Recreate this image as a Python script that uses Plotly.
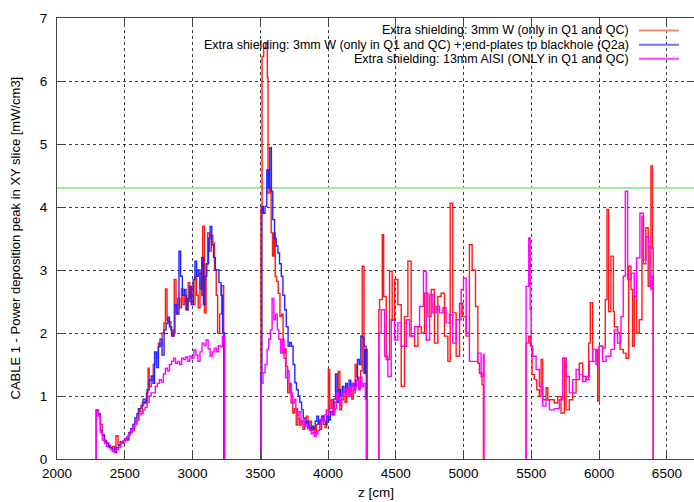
import plotly.graph_objects as go

# ---- data: step profiles (bin start positions in z [cm], last entry = end edge) ----
# Extra shielding: 3mm W (only in Q1 and QC)
red_a_z = [2290, 2305, 2320, 2335, 2350, 2365, 2380, 2395, 2410, 2425, 2435, 2450, 2465, 2480, 2495,
           2510, 2525, 2540, 2555, 2570, 2585, 2600, 2615, 2630, 2645, 2660, 2672, 2680, 2695, 2710,
           2722, 2735, 2748, 2760, 2775, 2790, 2800, 2812, 2825, 2840, 2855, 2865, 2878, 2890, 2905,
           2918, 2930, 2943, 2955, 2968, 2980, 2992, 3005, 3018, 3030, 3042, 3055, 3068, 3075, 3088,
           3100, 3112, 3125, 3138, 3150, 3162, 3175, 3185, 3200, 3215, 3230]
red_a_v = [0.78, 0.72, 0.55, 0.38, 0.30, 0.25, 0.22, 0.18, 0.20, 0.15, 0.37, 0.22, 0.28, 0.25, 0.30,
           0.33, 0.38, 0.42, 0.45, 0.55, 0.62, 0.80, 0.75, 0.90, 0.88, 1.05, 1.44, 1.15, 1.25, 1.50,
           1.68, 1.60, 1.84, 1.80, 2.00, 2.16, 2.70, 2.20, 2.18, 2.05, 1.95, 2.85, 2.30, 2.55, 2.40,
           2.70, 2.45, 2.60, 2.37, 2.80, 2.50, 2.74, 2.45, 2.90, 2.60, 2.40, 2.95, 2.60, 3.69, 2.32,
           3.10, 3.59, 3.30, 3.55, 3.43, 3.00, 2.60, 2.00, 2.30, 2.75]
red_b_z = [3505, 3513, 3525, 3540, 3552, 3557, 3570, 3580, 3590, 3600, 3610, 3620, 3632, 3645, 3657,
           3668, 3680, 3690, 3702, 3715, 3727, 3740, 3752, 3765, 3777, 3790, 3802, 3815, 3827, 3840,
           3852, 3865, 3877, 3890, 3902, 3915, 3927, 3940, 3952, 3965, 3977, 3990, 4002, 4012, 4025,
           4037, 4050, 4062, 4075, 4087, 4100, 4112, 4125, 4137, 4150, 4162, 4175, 4187, 4200, 4212,
           4225, 4240, 4252, 4265, 4282]
red_b_v = [4.00, 6.39, 6.52, 6.60, 6.05, 4.22, 4.30, 3.59, 3.22, 3.59, 2.90, 2.82, 2.63, 2.26, 2.30,
           1.68, 1.75, 1.47, 1.05, 1.20, 0.89, 0.73, 0.80, 0.54, 0.65, 0.54, 0.60, 0.47, 0.55, 0.68,
           0.52, 0.60, 0.45, 0.50, 0.42, 0.55, 0.60, 0.47, 0.68, 0.55, 0.50, 0.68, 1.42, 0.80, 0.94,
           0.75, 0.90, 0.94, 1.39, 0.78, 0.94, 1.00, 0.90, 1.10, 1.00, 1.15, 0.95, 1.10, 1.50, 1.30,
           1.12, 1.40, 3.06, 1.79]
red_c_z = [4375, 4380, 4400, 4410, 4429, 4454, 4473, 4491, 4515, 4540, 4564, 4589, 4613, 4638, 4663,
           4687, 4712, 4736, 4761, 4785, 4810, 4834, 4859, 4884, 4901, 4920, 4945, 4970, 4994, 5019,
           5043, 5063, 5088, 5105, 5117, 5136, 5146]
red_c_v = [2.37, 2.53, 3.56, 2.58, 1.58, 2.98, 2.20, 2.85, 2.45, 1.15, 2.26, 3.14, 1.95, 1.79, 2.10,
           2.00, 2.63, 2.26, 2.69, 1.84, 2.58, 2.63, 1.95, 1.55, 4.06, 2.32, 1.63, 2.47, 2.26, 1.95,
           3.40, 3.00, 2.42, 1.52, 1.36, 1.18]
red_d_z = [5461, 5481, 5493, 5505, 5522, 5540, 5559, 5572, 5584, 5608, 5621, 5645, 5670, 5694, 5719,
           5743, 5756, 5780, 5805, 5830, 5854, 5879, 5903, 5923, 5935, 5952, 5977, 5989, 6001, 6026,
           6045, 6058, 6070, 6087, 6105, 6112, 6136, 6154, 6178, 6198, 6218, 6235, 6247, 6259, 6276,
           6296, 6316, 6328, 6345, 6362, 6375, 6382, 6394, 6399]
red_d_v = [1.84, 1.95, 1.79, 1.34, 1.26, 1.10, 0.99, 1.58, 0.94, 1.13, 0.94, 0.94, 0.89, 0.99, 0.73,
           1.60, 0.78, 0.94, 1.05, 1.26, 1.52, 1.31, 1.26, 1.84, 2.48, 1.55, 1.74, 0.92, 1.79, 1.76,
           2.53, 3.96, 2.34, 3.22, 2.34, 2.10, 2.00, 1.74, 1.68, 1.60, 3.06, 2.69, 1.79, 2.58, 2.00,
           2.21, 3.85, 3.16, 3.67, 2.74, 3.35, 4.65, 3.35]

# Extra shielding: 3mm W (only in Q1 and QC) + end-plates to blackhole (Q2a)
blue_a_z = [2290, 2305, 2320, 2335, 2350, 2365, 2380, 2395, 2410, 2425, 2440, 2455, 2470, 2485, 2500,
            2515, 2530, 2545, 2560, 2575, 2590, 2605, 2620, 2635, 2650, 2665, 2680, 2695, 2708, 2720,
            2735, 2748, 2760, 2775, 2790, 2805, 2818, 2830, 2845, 2858, 2870, 2885, 2900, 2912, 2925,
            2940, 2952, 2965, 2978, 2990, 3005, 3018, 3030, 3042, 3055, 3068, 3080, 3092, 3105, 3118,
            3130, 3142, 3155, 3168, 3180, 3195, 3210, 3222, 3235]
blue_a_v = [0.78, 0.70, 0.45, 0.38, 0.28, 0.25, 0.20, 0.18, 0.15, 0.12, 0.18, 0.22, 0.25, 0.28, 0.32,
            0.30, 0.42, 0.48, 0.55, 0.65, 0.72, 0.80, 0.85, 0.95, 0.90, 1.10, 1.25, 1.32, 1.20, 1.70,
            1.45, 1.78, 1.90, 1.65, 2.05, 2.15, 2.25, 2.10, 1.95, 2.00, 2.45, 2.30, 3.30, 2.90, 2.60,
            2.69, 2.37, 2.55, 2.74, 2.45, 2.85, 3.14, 2.90, 3.00, 2.70, 3.20, 2.45, 2.90, 3.10, 3.50,
            3.69, 3.40, 3.20, 3.00, 3.00, 2.80, 2.60, 2.00]
blue_b_z = [3505, 3512, 3522, 3535, 3548, 3560, 3570, 3582, 3592, 3605, 3617, 3630, 3642, 3655, 3667,
            3680, 3692, 3705, 3717, 3730, 3742, 3755, 3767, 3780, 3792, 3805, 3817, 3830, 3842, 3855,
            3867, 3880, 3892, 3905, 3917, 3930, 3942, 3955, 3967, 3980, 3992, 4005, 4017, 4030, 4042,
            4055, 4067, 4080, 4092, 4105, 4117, 4130, 4142, 4155, 4167, 4180, 4192, 4205, 4217, 4230,
            4242, 4255, 4265, 4275, 4288]
blue_b_v = [1.37, 4.01, 3.90, 4.01, 4.59, 4.30, 4.94, 4.25, 3.80, 3.50, 3.38, 3.27, 3.10, 2.90, 2.60,
            2.37, 2.10, 1.79, 1.85, 1.79, 1.50, 1.21, 1.10, 1.00, 0.90, 0.78, 0.65, 0.57, 0.60, 0.50,
            0.47, 0.52, 0.47, 0.60, 0.68, 0.55, 0.62, 0.68, 0.60, 0.55, 0.68, 0.62, 0.75, 0.70, 0.95,
            1.35, 0.90, 1.10, 1.00, 1.15, 1.05, 1.20, 1.10, 1.25, 1.15, 1.20, 1.10, 1.25, 1.58, 1.50,
            1.95, 1.93, 1.36, 1.74]

# Extra shielding: 13mm AISI (ONLY in Q1 and QC)
mag_a_z = [2290, 2305, 2320, 2335, 2350, 2365, 2380, 2395, 2410, 2425, 2440, 2455, 2470, 2485, 2500,
           2515, 2530, 2545, 2560, 2575, 2590, 2605, 2620, 2635, 2650, 2665, 2680, 2695, 2710, 2725,
           2740, 2755, 2770, 2785, 2800, 2815, 2830, 2845, 2860, 2875, 2890, 2905, 2920, 2935, 2950,
           2965, 2980, 2995, 3010, 3025, 3040, 3055, 3070, 3085, 3100, 3115, 3130, 3145, 3160, 3175,
           3190, 3205, 3220, 3238]
mag_a_v = [0.78, 0.68, 0.42, 0.30, 0.25, 0.20, 0.18, 0.15, 0.12, 0.10, 0.15, 0.18, 0.25, 0.28, 0.30,
           0.35, 0.40, 0.45, 0.50, 0.55, 0.62, 0.70, 0.72, 0.78, 0.82, 0.90, 1.00, 1.05, 1.05, 1.15,
           1.20, 1.26, 1.22, 1.35, 1.44, 1.40, 1.50, 1.55, 1.60, 1.52, 1.55, 1.50, 1.60, 1.58, 1.62,
           1.55, 1.63, 1.60, 1.73, 1.65, 1.55, 1.70, 1.84, 1.80, 1.89, 1.75, 1.63, 1.70, 1.76, 1.70,
           1.80, 1.78, 1.95]
mag_b_z = [3505, 3520, 3535, 3550, 3562, 3575, 3587, 3600, 3612, 3625, 3637, 3650, 3662, 3675, 3687,
           3700, 3712, 3725, 3737, 3750, 3762, 3775, 3787, 3800, 3812, 3825, 3837, 3850, 3862, 3875,
           3887, 3900, 3912, 3925, 3937, 3950, 3962, 3975, 3987, 4000, 4012, 4025, 4037, 4050, 4062,
           4075, 4087, 4100, 4112, 4125, 4137, 4150, 4162, 4175, 4187, 4200, 4212, 4225, 4237, 4250,
           4262, 4275, 4285]
mag_b_v = [1.20, 1.37, 1.50, 1.74, 1.90, 2.05, 2.55, 2.21, 2.30, 2.05, 1.90, 1.68, 1.90, 1.60, 1.29,
           1.40, 1.20, 1.05, 0.89, 0.95, 0.80, 0.68, 0.75, 0.57, 0.62, 0.52, 0.55, 0.48, 0.45, 0.40,
           0.42, 0.36, 0.40, 0.45, 0.55, 0.65, 0.60, 0.70, 0.78, 0.72, 0.94, 0.85, 0.70, 0.80, 1.05,
           0.95, 0.85, 1.05, 1.00, 1.10, 1.13, 1.00, 1.15, 1.20, 1.05, 1.15, 1.25, 1.10, 1.30, 1.15,
           1.20, 0.95]
mag_c_z = [4375, 4392, 4417, 4441, 4466, 4491, 4515, 4540, 4577, 4601, 4638, 4675, 4704, 4724, 4749,
           4773, 4798, 4822, 4847, 4871, 4896, 4920, 4945, 4982, 4999, 5019, 5043, 5080, 5105, 5129,
           5146, 5151]
mag_c_v = [2.00, 2.37, 1.63, 1.31, 2.21, 1.89, 2.16, 1.79, 2.21, 1.95, 2.10, 2.42, 2.98, 1.89, 2.61,
           2.32, 2.42, 2.32, 2.40, 2.16, 2.29, 1.84, 2.21, 2.69, 2.87, 2.00, 1.55, 1.55, 1.68, 1.31,
           1.66]
mag_d_z = [5461, 5481, 5491, 5498, 5510, 5535, 5559, 5584, 5608, 5633, 5670, 5707, 5731, 5756, 5780,
           5805, 5830, 5854, 5879, 5903, 5928, 5952, 5977, 6001, 6026, 6051, 6087, 6112, 6136, 6161,
           6178, 6193, 6210, 6235, 6259, 6276, 6301, 6326, 6345, 6365, 6382, 6394, 6399]
mag_d_v = [2.74, 3.51, 2.37, 1.79, 1.63, 1.42, 1.15, 0.84, 0.94, 0.78, 0.80, 0.94, 1.60, 1.31, 1.05,
           1.26, 1.42, 1.34, 1.23, 1.31, 1.55, 1.74, 1.50, 1.79, 1.55, 1.63, 1.74, 2.05, 1.84, 2.26,
           2.90, 4.25, 2.85, 2.95, 2.58, 3.19, 3.90, 3.10, 3.53, 3.37, 2.69, 2.90]

threshold = 4.3
names = ["Extra shielding: 3mm W (only in Q1 and QC)",
         "Extra shielding: 3mm W (only in Q1 and QC) + end-plates to blackhole (Q2a)",
         "Extra shielding: 13mm AISI (ONLY in Q1 and QC)"]
colors = ["rgb(255,25,25)", "rgb(35,35,255)", "rgb(255,0,255)"]
key_colors = ["rgb(242,135,128)", "rgb(112,112,240)", "rgb(255,70,255)"]


def histo(segments):
    """Join step segments, each dropping to zero at both ends."""
    xs, ys = [], []
    for z, v in segments:
        xs += [z[0]] + z[:-1] + [z[-1], z[-1], None]
        ys += [0] + v + [v[-1], 0, None]
    return xs, ys


series = [
    [(red_a_z, red_a_v), (red_b_z, red_b_v), (red_c_z, red_c_v), (red_d_z, red_d_v)],
    [(blue_a_z, blue_a_v), (blue_b_z, blue_b_v)],
    [(mag_a_z, mag_a_v), (mag_b_z, mag_b_v), (mag_c_z, mag_c_v), (mag_d_z, mag_d_v)],
]

FONT = "Liberation Sans, Arial, Helvetica, sans-serif"
fig = go.Figure()

fig.add_trace(go.Scatter(x=[2000, 6700], y=[threshold, threshold], mode="lines",
                         line=dict(color="rgb(150,240,150)", width=2),
                         showlegend=False, hoverinfo="skip"))

for segs, name, col in zip(series, names, colors):
    xs, ys = histo(segs)
    fig.add_trace(go.Scatter(x=xs, y=ys, mode="lines", name=name,
                             line=dict(color=col, width=1.4, shape="hv"),
                             showlegend=False))

# key in the top-right corner: right-aligned text followed by a line sample
key_y = [0.9718, 0.9396, 0.9074]
for name, kc, yy in zip(names, key_colors, key_y):
    fig.add_annotation(x=0.901, y=yy, xref="paper", yref="paper", text=name,
                       showarrow=False, xanchor="right", yanchor="middle",
                       font=dict(family=FONT, size=12.5, color="black"))
    fig.add_shape(type="line", xref="paper", yref="paper", x0=0.9137, x1=0.9765,
                  y0=yy, y1=yy, line=dict(color=kc, width=2))

fig.add_annotation(x=0, y=0.5, xref="paper", yref="paper", xshift=-42,
                   text="CABLE 1 - Power deposition peak in XY slice [mW/cm3]",
                   textangle=-90, showarrow=False, xanchor="center", yanchor="middle",
                   font=dict(family=FONT, size=13, color="black"))
fig.add_annotation(x=0.5, y=0, xref="paper", yref="paper", yshift=-33,
                   text="z [cm]", showarrow=False, xanchor="center", yanchor="middle",
                   font=dict(family=FONT, size=13.5, color="black"))

axis_common = dict(showline=True, linecolor="#454545", linewidth=1, mirror="ticks",
                   ticks="inside", ticklen=7, tickcolor="#454545", tickwidth=1,
                   showgrid=True, gridcolor="rgba(0,0,0,0.75)", gridwidth=1, griddash="dot",
                   zeroline=False, tickfont=dict(family=FONT, size=13.5, color="black"))

fig.update_xaxes(range=[2000, 6700], tick0=2000, dtick=500, ticklabelstandoff=2, **axis_common)
fig.update_yaxes(range=[0, 7], tick0=0, dtick=1, ticklabelstandoff=6, **axis_common)

fig.update_layout(width=694, height=502, margin=dict(l=57, r=0, t=18, b=43),
                  plot_bgcolor="white", paper_bgcolor="white", showlegend=False)

fig.write_html("out.html")
